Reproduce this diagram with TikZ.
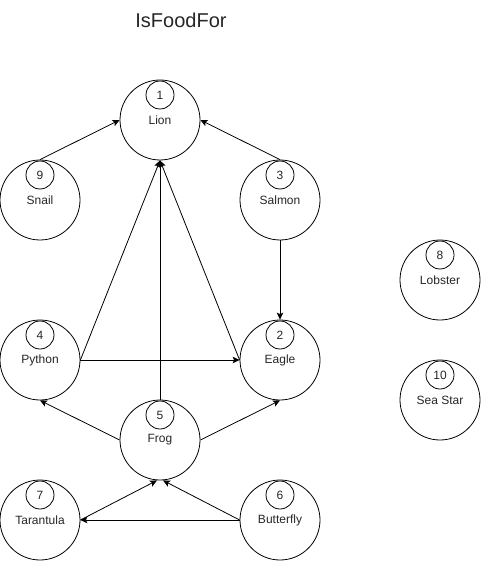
\documentclass[tikz,border=0pt]{standalone}
\usepackage{fontspec}
\setmainfont{Liberation Sans}
\usetikzlibrary{arrows.meta,positioning}
\tikzset{
  line cap=round,
  line join=round,
  animal/.style={draw, circle, line width=0.8pt, minimum size=80pt, inner sep=0pt,
    font=\fontsize{12}{14}\selectfont, text=black!85},
  idcircle/.style={draw, circle, line width=0.8pt, minimum size=28pt, inner sep=0pt,
    font=\fontsize{12}{14}\selectfont, text=black!85},
  eats/.style={-{Stealth[length=7pt,width=6.5pt,inset=1.5pt]}, line width=0.8pt},
  title/.style={font=\fontsize{20}{24}\selectfont, text=black!85}
}

\begin{document}
\begin{tikzpicture}[x=1pt, y=-1pt]
    % page frame
    \useasboundingbox (0,0) rectangle (481,561);

    % title
    \node[title] (head) at (181,20) {IsFoodFor};

    % the animals
    \node[animal] (lion) at (160,120) {Lion};
    \node[animal] (snail) at (40,200) {Snail};
    \node[animal] (salmon) at (280,200) {Salmon};
    \node[animal] (python) at (40,360) {Python};
    \node[animal] (eagle) at (280,360) {Eagle};
    \node[animal] (frog) at (160,440) {Frog};
    \node[animal] (tarantula) at (40,520) {Tarantula};
    \node[animal] (butterfly) at (280,520) {Butterfly};
    \node[animal] (lobster) at (440,280) {Lobster};
    \node[animal] (seastar) at (440,400) {Sea Star};

    % numbers
    \node[idcircle] (lion-n) at ([yshift=25pt]lion.center) {1};
    \node[idcircle] (eagle-n) at ([yshift=25pt]eagle.center) {2};
    \node[idcircle] (salmon-n) at ([yshift=25pt]salmon.center) {3};
    \node[idcircle] (python-n) at ([yshift=25pt]python.center) {4};
    \node[idcircle] (frog-n) at ([yshift=25pt]frog.center) {5};
    \node[idcircle] (butterfly-n) at ([yshift=25pt]butterfly.center) {6};
    \node[idcircle] (tarantula-n) at ([yshift=25pt]tarantula.center) {7};
    \node[idcircle] (lobster-n) at ([yshift=25pt]lobster.center) {8};
    \node[idcircle] (snail-n) at ([yshift=25pt]snail.center) {9};
    \node[idcircle] (seastar-n) at ([yshift=25pt]seastar.center) {10};

    % who is food for whom
    \draw[eats] (snail.north) -- (lion.west);
    \draw[eats] (salmon.north) -- (lion.east);
    \draw[eats] (salmon.south) -- (eagle.north);
    \draw[eats] (python.east) -- (lion.south);
    \draw[eats] (frog.north) -- (lion.south);
    \draw[eats] (eagle.west) -- (lion.south);
    \draw[eats] (python.east) -- (eagle.west);
    \draw[eats] (frog.west) -- (python.south);
    \draw[eats] (frog.east) -- (eagle.south);
    \draw[eats] (tarantula.east) -- ([xshift=-3pt]frog.south);
    \draw[eats] (butterfly.west) -- ([xshift=3pt]frog.south);
    \draw[eats] (butterfly.west) -- (tarantula.east);
\end{tikzpicture}
\end{document}
